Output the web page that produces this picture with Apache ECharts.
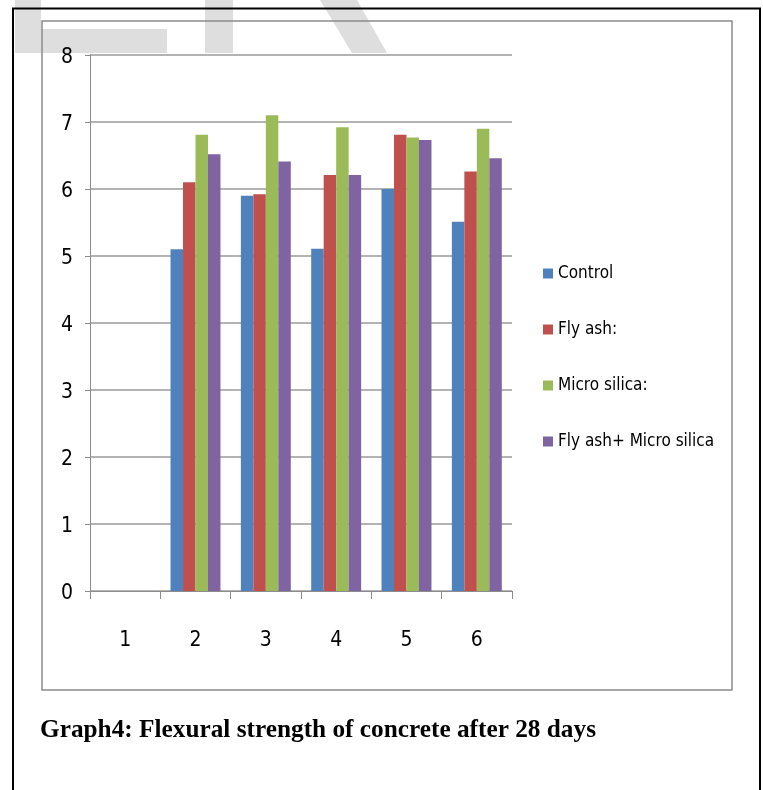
<!DOCTYPE html>
<html>
<head>
<meta charset="utf-8">
<script src="https://cdn.jsdelivr.net/npm/echarts@6/dist/echarts.min.js"></script>
<style>
  html, body { margin: 0; padding: 0; background: #ffffff; }
  #chart { width: 763px; height: 790px; }
</style>
</head>
<body>
<div id="chart"></div>
<script>
// Specimen groups along the x axis
const categories = ['1', '2', '3', '4', '5', '6'];

// Flexural strength after 28 days (group 1 has no bars)
const control        = [null, 5.10, 5.90, 5.11, 6.00, 5.51];
const flyAsh         = [null, 6.10, 5.92, 6.21, 6.81, 6.26];
const microSilica    = [null, 6.81, 7.10, 6.92, 6.77, 6.90];
const flyAshMicro    = [null, 6.52, 6.41, 6.21, 6.73, 6.46];

const seriesNames = ['Control', 'Fly ash:', 'Micro silica:', 'Fly ash+ Micro silica'];
const seriesColors = ['#4F81BD', '#C0504D', '#9BBB59', '#8064A2'];
const seriesValues = [control, flyAsh, microSilica, flyAshMicro];

const yTicks = [0, 1, 2, 3, 4, 5, 6, 7, 8];

const captionText = 'Graph4: Flexural strength of concrete after 28 days';

const narrow = '"DejaVu Sans Condensed", "Liberation Sans Narrow", sans-serif';
const serif = '"Liberation Serif", "DejaVu Serif", serif';

// horizontal squeeze so the caption spans its line
function captionScale(font, target) {
  const ctx = document.createElement('canvas').getContext('2d');
  ctx.font = font;
  const w = ctx.measureText(captionText).width;
  return w > 0 ? target / w : 1;
}
const capFont = 'bold 26px ' + serif;
const capScale = captionScale(capFont, 556);

const chart = echarts.init(document.getElementById('chart'), null, { renderer: 'canvas' });

const option = {
  backgroundColor: '#ffffff',
  animation: false,
  color: seriesColors,
  grid: { left: 90, top: 55, right: 251, bottom: 199, containLabel: false },
  legend: {
    orient: 'vertical',
    left: 543,
    top: 263,
    padding: 0,
    icon: 'rect',
    itemWidth: 10,
    itemHeight: 10,
    itemGap: 35,
    textStyle: { fontFamily: narrow, fontSize: 17, color: '#000', lineHeight: 21 },
    data: seriesNames
  },
  xAxis: {
    type: 'category',
    data: categories,
    boundaryGap: true,
    axisLine: { show: true, lineStyle: { color: '#8c8c8c', width: 1 } },
    axisTick: { show: true, alignWithLabel: false, length: 8, lineStyle: { color: '#8c8c8c' } },
    axisLabel: { margin: 39, fontFamily: narrow, fontSize: 21, color: '#000' },
    splitLine: { show: false }
  },
  yAxis: {
    type: 'value',
    min: yTicks[0],
    max: yTicks[yTicks.length - 1],
    interval: 1,
    axisLine: { show: true, lineStyle: { color: '#8c8c8c', width: 1 } },
    axisTick: { show: true, length: 5, lineStyle: { color: '#8c8c8c' } },
    axisLabel: { margin: 17, fontFamily: narrow, fontSize: 21, color: '#000', verticalAlign: 'top', lineHeight: 6 },
    splitLine: { show: true, lineStyle: { color: '#9a9a9a', width: 1.5 } }
  },
  series: seriesNames.map((name, i) => ({
    name: name,
    type: 'bar',
    data: seriesValues[i],
    barGap: '0%',
    barCategoryGap: '29%',
    itemStyle: { color: seriesColors[i] }
  })),
  graphic: [
    // faint letters showing above the plot
    { type: 'rect', z: -10, shape: { x: 15, y: 0, width: 26, height: 53 }, style: { fill: '#dedede' } },
    { type: 'rect', z: -10, shape: { x: 41, y: 29, width: 126, height: 24 }, style: { fill: '#dedede' } },
    { type: 'rect', z: -10, shape: { x: 205, y: 0, width: 28, height: 53 }, style: { fill: '#dedede' } },
    { type: 'polygon', z: -10, shape: { points: [[320, 0], [357, 0], [387, 53], [352, 53]] }, style: { fill: '#dedede' } },
    // page frame
    { type: 'rect', z: 5, shape: { x: 13, y: 8.5, width: 747, height: 800 }, style: { fill: 'none', stroke: '#000', lineWidth: 2 } },
    // chart box
    { type: 'rect', z: 5, shape: { x: 42, y: 21, width: 690, height: 669 }, style: { fill: 'none', stroke: '#8c8c8c', lineWidth: 1.5 } },
    // caption
    {
      type: 'text', z: 5, x: 40, y: 730, scaleX: capScale, originX: 0,
      style: { text: captionText, font: capFont, fill: '#000', textVerticalAlign: 'middle', verticalAlign: 'middle' }
    }
  ]
};

chart.setOption(option);
</script>
</body>
</html>
